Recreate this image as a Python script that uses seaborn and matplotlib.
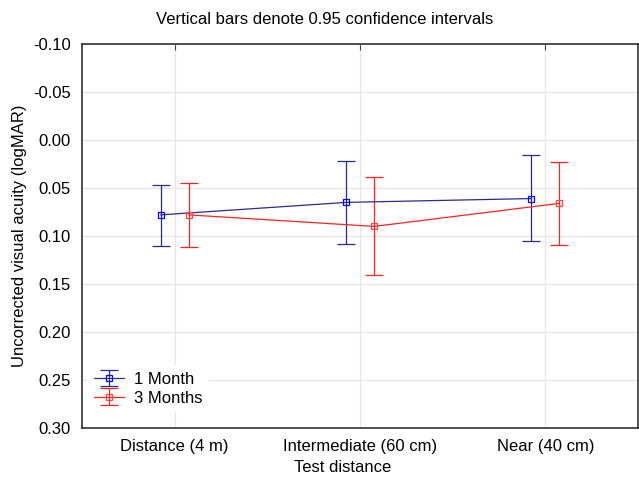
#!/usr/bin/env python3
"""
Visual acuity by test distance, 1 vs 3 months, with 0.95 CI bars.
"""

import numpy as np
import matplotlib
matplotlib.use("Agg")
import matplotlib.pyplot as plt
import seaborn as sns

# Data
categories = ["Distance (4 m)", "Intermediate (60 cm)", "Near (40 cm)"]
series_names = ["1 Month", "3 Months"]

mean_1m = [0.078, 0.065, 0.061]
low_1m = [0.047, 0.022, 0.016]
high_1m = [0.110, 0.108, 0.105]

mean_3m = [0.078, 0.090, 0.066]
low_3m = [0.045, 0.039, 0.023]
high_3m = [0.111, 0.141, 0.109]

y_ticks = [-0.10, -0.05, 0.00, 0.05, 0.10, 0.15, 0.20, 0.25, 0.30]

# Style
sns.set_style("whitegrid")
plt.rcParams['font.family'] = ['Liberation Sans', 'DejaVu Sans']
plt.rcParams['axes.unicode_minus'] = False
plt.rcParams['text.color'] = 'black'

fig = plt.figure(figsize=(6.39, 4.79), dpi=100)
ax = fig.add_axes([82 / 639, 1 - 428 / 479, 556 / 639, 384 / 479])

x = np.arange(len(categories))
offset = 0.076

series = [
    (mean_1m, low_1m, high_1m, -offset, '#2b2b8c', '#0000ff'),
    (mean_3m, low_3m, high_3m, offset, '#ff2222', '#ff4444'),
]

for name, (mean, low, high, dx, line_col, mark_col) in zip(series_names, series):
    mean = np.array(mean)
    yerr = np.vstack([mean - np.array(low), np.array(high) - mean])
    ax.errorbar(x + dx, mean, yerr=yerr, color=line_col, ecolor=line_col,
                elinewidth=0.9, linewidth=0.9, capsize=6.8, capthick=0.9,
                marker='s', markersize=5, markerfacecolor='none',
                markeredgecolor=mark_col, markeredgewidth=0.9, label=name)

ax.set_xlim(-0.5, 2.5)
ax.set_xticks(x)
ax.set_xticklabels(categories, fontsize=12)
ax.set_ylim(0.30, -0.10)
ax.set_yticks(y_ticks)
ax.set_yticklabels([f"{v:.2f}" for v in y_ticks], fontsize=12)

ax.grid(True, color='#e6e6e6', linewidth=0.9)
for sp in ax.spines.values():
    sp.set_color('#222222')
    sp.set_linewidth(1.1)

ax.tick_params(axis='x', direction='in', top=True, length=4, pad=8,
               color='#444444', labelcolor='black')
ax.tick_params(axis='y', direction='out', length=4, pad=4,
               color='#444444', labelcolor='black')

leg = ax.legend(loc='lower left', bbox_to_anchor=(0.0, 0.028), fontsize=12,
                frameon=True, framealpha=1.0, edgecolor='white',
                handlelength=1.8, handletextpad=0.6, labelspacing=0.22,
                borderaxespad=0.3)
leg.get_frame().set_linewidth(0)

fig.text(325 / 639, 1 - 20 / 479, "Vertical bars denote 0.95 confidence intervals",
         ha='center', va='center', fontsize=12)
fig.text(343 / 639, 1 - 468 / 479, "Test distance",
         ha='center', va='center', fontsize=12)
fig.text(20 / 639, 1 - 236 / 479, "Uncorrected visual acuity (logMAR)",
         ha='center', va='center', rotation=90, fontsize=12)

plt.savefig("out.png", dpi=100)
plt.close()
